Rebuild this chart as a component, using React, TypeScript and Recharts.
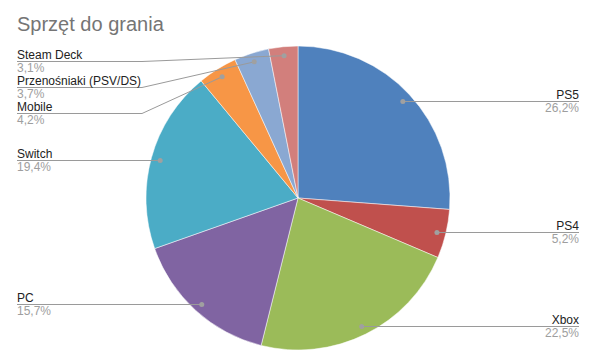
import { PieChart, Pie, Cell } from 'recharts'

const names = ['PS5', 'PS4', 'Xbox', 'PC', 'Switch', 'Mobile', 'Przenośniaki (PSV/DS)', 'Steam Deck']
const shares = [26.2, 5.2, 22.5, 15.7, 19.4, 4.2, 3.7, 3.1]
const colors = ['#4f81bd', '#c0504d', '#9bbb59', '#8064a2', '#4bacc6', '#f79646', '#8aa8d2', '#d27f7c']

const data = names.map((name, i) => ({ name, value: shares[i] }))

const FONT = "Arial, 'Liberation Sans', sans-serif"
const CX = 298
const CY = 198
const R = 152
const DOT_R = R - 9
const LEFT_X = 17
const RIGHT_X = 579
const ELBOW_LEFT = 142
const ELBOW_RIGHT = 452
const GAP = 26
const MIN_Y = 61
const RAD = Math.PI / 180

// same angle maths as the pie: start at top, go clockwise
function dotPos(midAngle: number) {
  return {
    x: CX + DOT_R * Math.cos(-midAngle * RAD),
    y: CY + DOT_R * Math.sin(-midAngle * RAD),
  }
}

function layoutLabels() {
  const total = shares.reduce((a, b) => a + b, 0)
  let acc = 0
  const pts = shares.map((v, i) => {
    const mid = 90 - ((acc + v / 2) / total) * 360
    acc += v
    return { i, ...dotPos(mid) }
  })
  const ys: number[] = []
  for (const side of [pts.filter(p => p.x < CX), pts.filter(p => p.x >= CX)]) {
    side.sort((a, b) => a.y - b.y)
    let prev = -Infinity
    for (const p of side) {
      const y = Math.max(p.y, prev + GAP, MIN_Y)
      ys[p.i] = y
      prev = y
    }
  }
  return ys
}

const labelYs = layoutLabels()

function renderLabel(props: any) {
  const { midAngle, index, name, percent } = props
  const dot = dotPos(midAngle)
  const ly = Math.round(labelYs[index]) + 0.5
  const straight = Math.abs(labelYs[index] - dot.y) < 0.5
  const left = dot.x < CX
  const pct = (percent * 100).toFixed(1).replace('.', ',') + '%'
  const tx = left ? LEFT_X : RIGHT_X
  const ex = left ? ELBOW_LEFT : ELBOW_RIGHT
  const path = straight
    ? `M${tx},${ly}L${dot.x},${ly}`
    : `M${tx},${ly}L${ex},${ly}L${dot.x},${dot.y}`
  return (
    <g key={`lbl-${index}`}>
      <path d={path} stroke="#9a9a9a" strokeWidth={1} fill="none" />
      <circle cx={dot.x} cy={straight ? ly : dot.y} r={2.5} fill="#a0a0a0" />
      <text x={tx} y={ly - 3} textAnchor={left ? 'start' : 'end'} fontFamily={FONT} fontSize={12} fill="#222">
        {name}
      </text>
      <text x={tx} y={ly + 10} textAnchor={left ? 'start' : 'end'} fontFamily={FONT} fontSize={12} fill="#9e9e9e">
        {pct}
      </text>
    </g>
  )
}

export default function App() {
  return (
    <div style={{ position: 'absolute', left: 0, top: 0, width: 594, height: 356, background: '#fff' }}>
      <div style={{ position: 'absolute', left: 17, top: 14, fontFamily: FONT, fontSize: 20, color: '#757575', lineHeight: '20px', whiteSpace: 'nowrap' }}>
        Sprzęt do grania
      </div>
      <PieChart width={594} height={356} margin={{ top: 0, right: 0, bottom: 0, left: 0 }}>
        <Pie
          data={data}
          dataKey="value"
          nameKey="name"
          cx={CX}
          cy={CY}
          outerRadius={R}
          startAngle={90}
          endAngle={-270}
          stroke="#fff"
          strokeWidth={0.5}
          label={renderLabel}
          labelLine={false}
          isAnimationActive={false}
        >
          {data.map((d, i) => (
            <Cell key={d.name} fill={colors[i]} />
          ))}
        </Pie>
      </PieChart>
    </div>
  )
}
